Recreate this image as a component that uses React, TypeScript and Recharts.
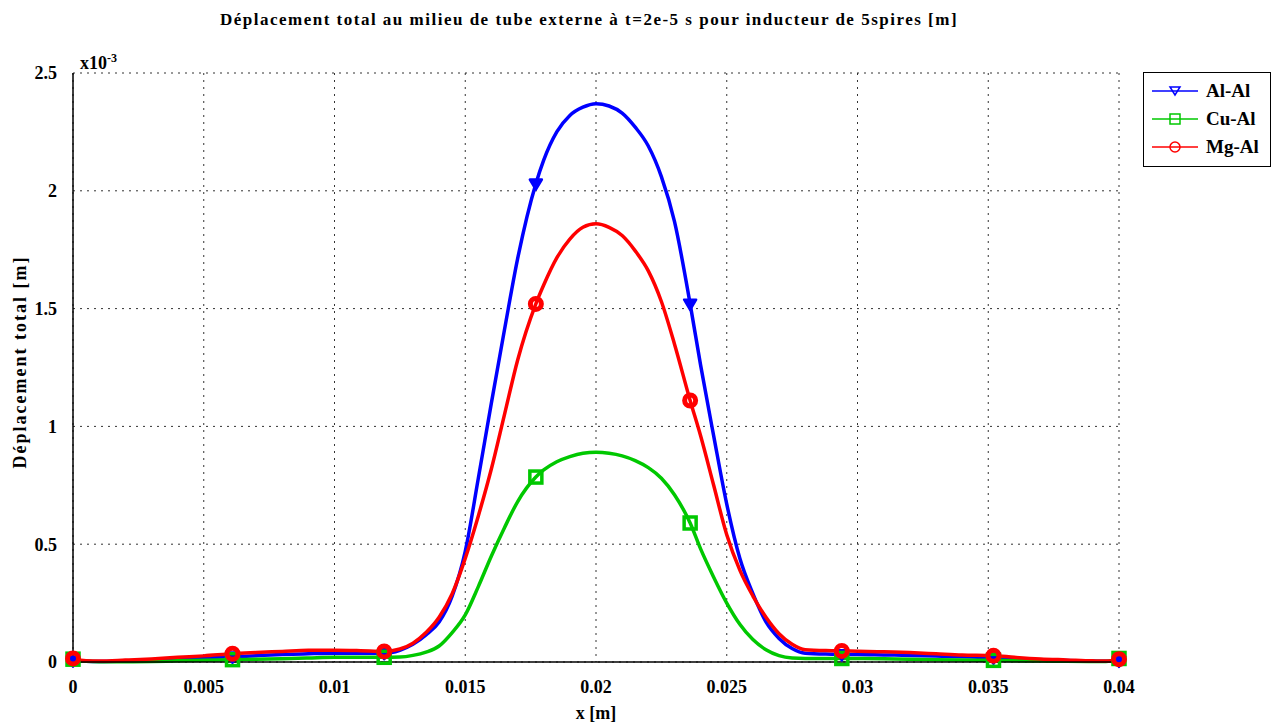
import { LineChart, Line, XAxis, YAxis, CartesianGrid } from 'recharts';

const xs = [
  0, 0.0005, 0.001, 0.002, 0.003, 0.004, 0.005, 0.0061, 0.007, 0.008,
  0.009, 0.01, 0.011, 0.0119, 0.0125, 0.013, 0.0135, 0.014, 0.0145, 0.015,
  0.0155, 0.016, 0.0165, 0.017, 0.0177, 0.018, 0.0185, 0.019, 0.0195, 0.02,
  0.0205, 0.021, 0.0215, 0.022, 0.0225, 0.023, 0.0236, 0.024, 0.0245, 0.025,
  0.0255, 0.026, 0.0265, 0.027, 0.0275, 0.028, 0.029, 0.0294, 0.03, 0.031,
  0.032, 0.033, 0.034, 0.0352, 0.036, 0.037, 0.038, 0.039, 0.0395, 0.04,
];

// valeurs en 1e-3 m
const alAl = [
  0.006, 0.003, 0.002, 0.004, 0.008, 0.013, 0.018, 0.022, 0.027, 0.032,
  0.035, 0.037, 0.037, 0.037, 0.05, 0.075, 0.115, 0.17, 0.28, 0.47,
  0.78, 1.1, 1.41, 1.71, 2.03, 2.13, 2.25, 2.32, 2.355, 2.37,
  2.36, 2.33, 2.27, 2.19, 2.06, 1.87, 1.52, 1.26, 0.96, 0.67,
  0.44, 0.29, 0.17, 0.1, 0.057, 0.037, 0.033, 0.032, 0.032, 0.03,
  0.028, 0.025, 0.022, 0.018, 0.013, 0.009, 0.006, 0.004, 0.003, 0.005,
];

const cuAl = [
  0.012, 0.003, 0.001, 0.001, 0.002, 0.005, 0.007, 0.01, 0.012, 0.014,
  0.017, 0.02, 0.02, 0.02, 0.021, 0.028, 0.042, 0.068, 0.125, 0.2,
  0.32, 0.45, 0.57, 0.68, 0.785, 0.815, 0.85, 0.872, 0.886, 0.89,
  0.886, 0.875, 0.855, 0.825, 0.78, 0.71, 0.59, 0.48, 0.36, 0.25,
  0.16, 0.095, 0.052, 0.027, 0.017, 0.015, 0.015, 0.015, 0.015, 0.014,
  0.012, 0.01, 0.008, 0.007, 0.005, 0.004, 0.003, 0.002, 0.002, 0.015,
];

const mgAl = [
  0.015, 0.005, 0.004, 0.008, 0.013, 0.02, 0.026, 0.035, 0.04, 0.045,
  0.05, 0.05, 0.048, 0.045, 0.055, 0.08, 0.125, 0.19, 0.29, 0.44,
  0.62, 0.82, 1.05, 1.28, 1.52, 1.6, 1.715, 1.795, 1.845, 1.86,
  1.845, 1.81, 1.745, 1.66, 1.53, 1.35, 1.11, 0.96, 0.75, 0.54,
  0.39, 0.28, 0.19, 0.12, 0.075, 0.052, 0.048, 0.047, 0.046, 0.043,
  0.04, 0.035, 0.03, 0.027, 0.02, 0.013, 0.009, 0.005, 0.004, 0.012,
];

const markerXs = [0, 0.0061, 0.0119, 0.0177, 0.0236, 0.0294, 0.0352, 0.04];
const xTicks = [0, 0.005, 0.01, 0.015, 0.02, 0.025, 0.03, 0.035, 0.04];
const yTicks = [0, 0.5, 1, 1.5, 2, 2.5];

const BLUE = '#0000ff';
const GREEN = '#00c800';
const RED = '#ff0000';
const FONT = '"Liberation Serif", "DejaVu Serif", serif';

const data = xs.map((x, i) => ({ x, alAl: alAl[i], cuAl: cuAl[i], mgAl: mgAl[i] }));

const isMarker = (x: number) => markerXs.some(m => Math.abs(m - x) < 1e-9);

function Marker({ kind, cx, cy, color }: { kind: string; cx: number; cy: number; color: string }) {
  if (kind === 'tri') {
    const s = 6;
    return (
      <polygon
        points={`${cx - s},${cy - s * 0.7} ${cx + s},${cy - s * 0.7} ${cx},${cy + s}`}
        fill={color}
        stroke={color}
        strokeWidth={2.5}
        strokeLinejoin="round"
      />
    );
  }
  if (kind === 'sq') {
    return <rect x={cx - 6} y={cy - 6} width={12} height={12} fill="none" stroke={color} strokeWidth={3.5} />;
  }
  return <circle cx={cx} cy={cy} r={5.5} fill="none" stroke={color} strokeWidth={5} />;
}

const makeDot = (kind: string, color: string) => (props: any) => {
  const { cx, cy, payload, index } = props;
  if (!isMarker(payload.x)) return <g key={`d-${kind}-${index}`} />;
  return (
    <g key={`d-${kind}-${index}`}>
      <Marker kind={kind} cx={cx} cy={cy} color={color} />
    </g>
  );
};

const legendItems = [
  { name: 'Al-Al', color: BLUE, kind: 'tri' },
  { name: 'Cu-Al', color: GREEN, kind: 'sq' },
  { name: 'Mg-Al', color: RED, kind: 'circ' },
];

const tickStyle = { fill: '#000', fontSize: 18, fontWeight: 'bold' as const, fontFamily: FONT };

export default function App() {
  return (
    <div style={{ position: 'absolute', left: 0, top: 0, width: 1282, height: 727, background: '#fff', fontFamily: FONT }}>
      <div
        style={{
          position: 'absolute',
          left: 0,
          width: 1178,
          top: 10,
          textAlign: 'center',
          fontSize: 17,
          letterSpacing: 1.5,
          fontWeight: 'bold',
          color: '#000',
        }}
      >
        Déplacement total au milieu de tube externe à t=2e-5 s pour inducteur de 5spires [m]
      </div>
      <div style={{ position: 'absolute', left: 80, top: 51, fontSize: 18, fontWeight: 'bold' }}>
        x10<sup style={{ fontSize: 12 }}>-3</sup>
      </div>
      <div
        style={{
          position: 'absolute',
          left: 20,
          top: 362,
          transform: 'translate(-50%, -50%) rotate(-90deg)',
          whiteSpace: 'nowrap',
          fontSize: 18,
          letterSpacing: 2,
          fontWeight: 'bold',
        }}
      >
        Déplacement total [m]
      </div>
      <div style={{ position: 'absolute', left: 0, width: 1192, top: 703, textAlign: 'center', fontSize: 18, fontWeight: 'bold' }}>
        x [m]
      </div>

      <LineChart width={1282} height={727} data={data} margin={{ top: 73, right: 163, bottom: 0, left: 0 }} style={{ position: 'absolute', left: 0, top: 0 }}>
        <CartesianGrid stroke="#333" strokeDasharray="2 5" />
        <XAxis
          dataKey="x"
          type="number"
          domain={[0, 0.04]}
          ticks={xTicks}
          tick={tickStyle}
          tickLine={false}
          axisLine={{ stroke: '#000', strokeWidth: 1.5 }}
          height={65}
          tickMargin={12}
          interval={0}
        />
        <XAxis xAxisId="top" dataKey="x" type="number" domain={[0, 0.04]} orientation="top" tick={false} tickLine={false} axisLine={{ stroke: '#000', strokeWidth: 1.5 }} height={0} />
        <YAxis
          type="number"
          domain={[0, 2.5]}
          ticks={yTicks}
          tick={tickStyle}
          tickLine={false}
          axisLine={{ stroke: '#000', strokeWidth: 1.5 }}
          width={73}
          tickMargin={10}
          interval={0}
        />
        <YAxis yAxisId="right" orientation="right" domain={[0, 2.5]} tick={false} tickLine={false} axisLine={{ stroke: '#000', strokeWidth: 1.5 }} width={0} />
        <Line dataKey="alAl" type="monotone" stroke={BLUE} strokeWidth={3.5} dot={makeDot('tri', BLUE)} isAnimationActive={false} />
        <Line dataKey="cuAl" type="monotone" stroke={GREEN} strokeWidth={3.5} dot={makeDot('sq', GREEN)} isAnimationActive={false} />
        <Line dataKey="mgAl" type="monotone" stroke={RED} strokeWidth={3.5} dot={makeDot('circ', RED)} isAnimationActive={false} />
      </LineChart>

      <div
        style={{
          position: 'absolute',
          left: 1143,
          top: 72,
          width: 128,
          height: 95,
          border: '1.5px solid #000',
          boxSizing: 'border-box',
          background: '#fff',
        }}
      >
        {legendItems.map((it, i) => (
          <div key={it.name} style={{ position: 'absolute', left: 8, top: 6 + i * 28, height: 24, display: 'flex', alignItems: 'center' }}>
            <svg width={46} height={24}>
              <line x1={0} y1={12} x2={46} y2={12} stroke={it.color} strokeWidth={1.5} />
              {it.kind === 'tri' && <polygon points="18,8 28,8 23,16" fill="none" stroke={it.color} strokeWidth={1.5} />}
              {it.kind === 'sq' && <rect x={18} y={7} width={10} height={10} fill="none" stroke={it.color} strokeWidth={1.5} />}
              {it.kind === 'circ' && <circle cx={23} cy={12} r={5} fill="none" stroke={it.color} strokeWidth={1.5} />}
            </svg>
            <span style={{ marginLeft: 8, fontSize: 19, fontWeight: 'bold', color: '#000' }}>{it.name}</span>
          </div>
        ))}
      </div>
    </div>
  );
}
